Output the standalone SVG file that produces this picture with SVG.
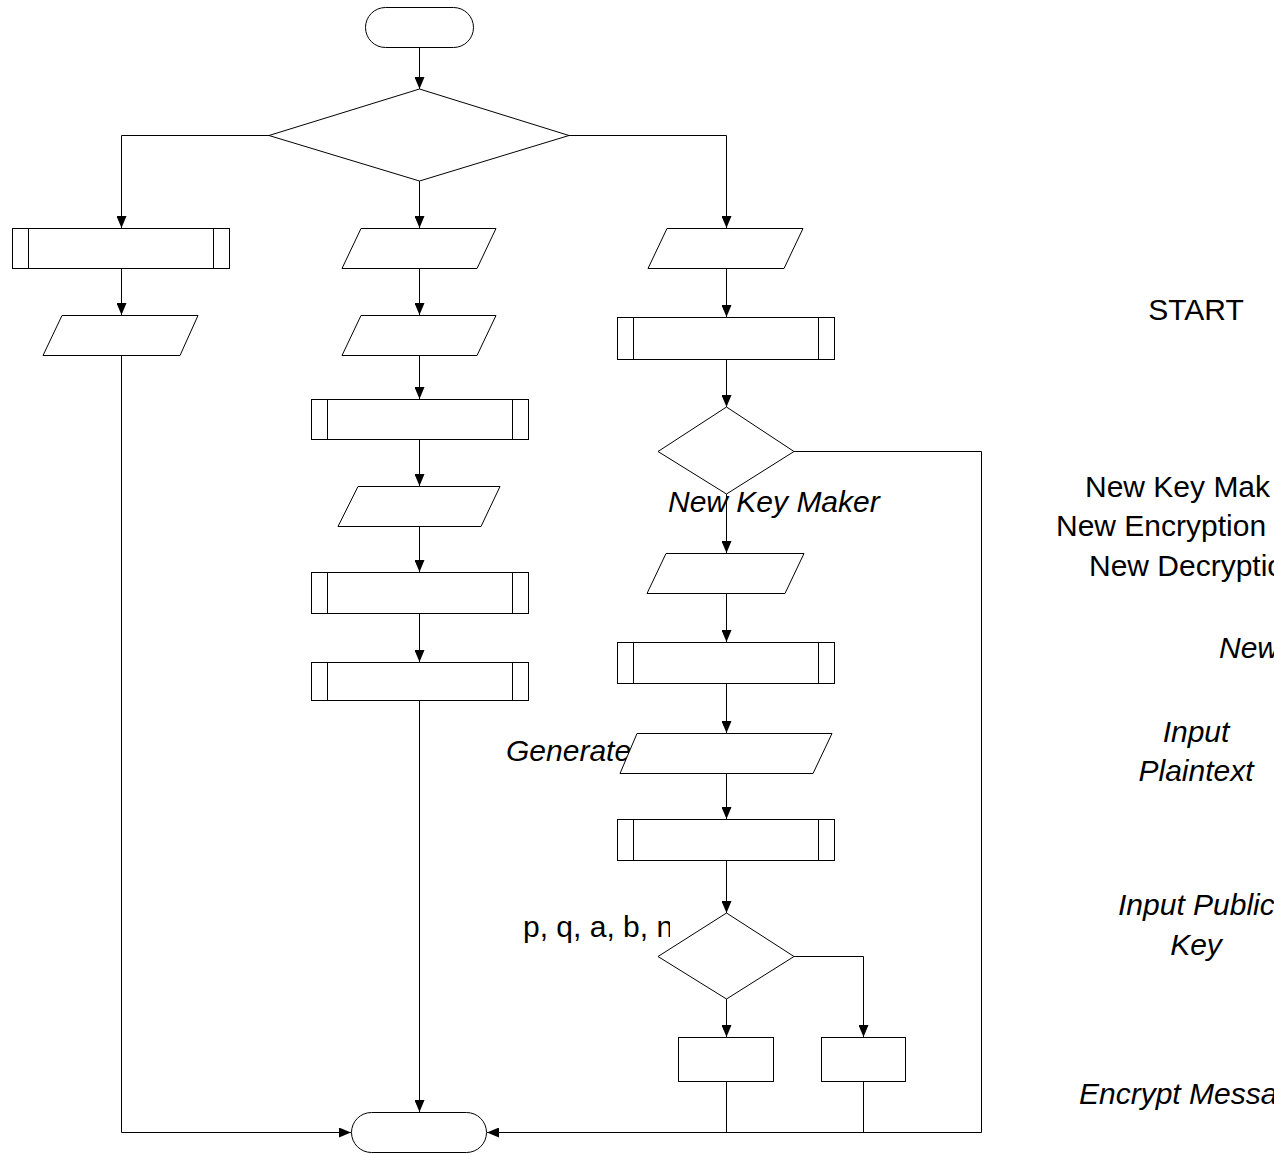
<svg xmlns="http://www.w3.org/2000/svg" width="1274" height="1154" viewBox="0 0 1274 1154">
<style>
.s{fill:#fff;stroke:#000;stroke-width:1}
.c{fill:none;stroke:#000;stroke-width:1}
.t{font-family:"Liberation Sans",Arial,sans-serif;font-size:30px;fill:#000}
.i{font-style:italic}
</style>
<defs>
<marker id="ah" markerUnits="userSpaceOnUse" viewBox="0 0 12 10" refX="12" refY="5" markerWidth="12" markerHeight="10" orient="auto">
<path d="M0,0 L12,5 L0,10 z" fill="#000"/>
</marker>
<clipPath id="clipP"><rect x="0" y="880" width="670" height="80"/></clipPath>
</defs>
<rect width="1274" height="1154" fill="#fff"/>
<g id="connectors">
<path class="c" d="M419.5,47 V89" marker-end="url(#ah)"/>
<path class="c" d="M269,135.5 H121.5 V228" marker-end="url(#ah)"/>
<path class="c" d="M569,135.5 H726.5 V228" marker-end="url(#ah)"/>
<path class="c" d="M419.5,181 V228" marker-end="url(#ah)"/>
<path class="c" d="M121.5,268 V315" marker-end="url(#ah)"/>
<path class="c" d="M121.5,355 V1132.5 H351" marker-end="url(#ah)"/>
<path class="c" d="M419.5,268 V315" marker-end="url(#ah)"/>
<path class="c" d="M419.5,355 V399" marker-end="url(#ah)"/>
<path class="c" d="M419.5,439 V486" marker-end="url(#ah)"/>
<path class="c" d="M419.5,526 V572" marker-end="url(#ah)"/>
<path class="c" d="M419.5,613 V662" marker-end="url(#ah)"/>
<path class="c" d="M419.5,701 V1112" marker-end="url(#ah)"/>
<path class="c" d="M726.5,268 V317" marker-end="url(#ah)"/>
<path class="c" d="M726.5,359 V407" marker-end="url(#ah)"/>
<path class="c" d="M726.5,494 V553" marker-end="url(#ah)"/>
<path class="c" d="M794,451.5 H981.5 V1132.5 H487" marker-end="url(#ah)"/>
<path class="c" d="M726.5,593 V642" marker-end="url(#ah)"/>
<path class="c" d="M726.5,683 V733" marker-end="url(#ah)"/>
<path class="c" d="M726.5,773 V819" marker-end="url(#ah)"/>
<path class="c" d="M726.5,860 V913" marker-end="url(#ah)"/>
<path class="c" d="M726.5,999 V1037" marker-end="url(#ah)"/>
<path class="c" d="M794,956.5 H863.5 V1037" marker-end="url(#ah)"/>
<path class="c" d="M726.5,1081 V1132"/>
<path class="c" d="M863.5,1081 V1132"/>
</g>
<g id="hidden-labels">
<text class="t i" x="506" y="761">Generate</text>
<text class="t" x="523" y="937" clip-path="url(#clipP)">p, q, a, b, n</text>
</g>
<g id="start"><rect class="s" x="365.5" y="7.5" width="108" height="40" rx="20" ry="20"/></g>
<g id="menu"><path class="s" d="M419.5,89 L569,135.5 L419.5,181 L269,135.5 Z"/></g>
<g id="left1"><rect class="s" x="12.5" y="228.5" width="217" height="40"/><path class="c" d="M28.5,228.5 V268.5 M213.5,228.5 V268.5"/></g>
<g id="left2"><path class="s" d="M62,315.5 H198 L180,355.5 H43 Z"/></g>
<g id="mid1"><path class="s" d="M361,228.5 H496 L477,268.5 H342 Z"/></g>
<g id="mid2"><path class="s" d="M361,315.5 H496 L477,355.5 H342 Z"/></g>
<g id="mid3"><rect class="s" x="311.5" y="399.5" width="217" height="40"/><path class="c" d="M327.5,399.5 V439.5 M512.5,399.5 V439.5"/></g>
<g id="mid4"><path class="s" d="M358,486.5 H500 L481,526.5 H338 Z"/></g>
<g id="mid5"><rect class="s" x="311.5" y="572.5" width="217" height="41"/><path class="c" d="M327.5,572.5 V613.5 M512.5,572.5 V613.5"/></g>
<g id="mid6"><rect class="s" x="311.5" y="662.5" width="217" height="38"/><path class="c" d="M327.5,662.5 V700.5 M512.5,662.5 V700.5"/></g>
<g id="right1"><path class="s" d="M667,228.5 H803 L784,268.5 H648 Z"/></g>
<g id="right2"><rect class="s" x="617.5" y="317.5" width="217" height="42"/><path class="c" d="M633.5,317.5 V359.5 M818.5,317.5 V359.5"/></g>
<g id="right3"><path class="s" d="M726.5,407 L794,451.5 L726.5,494 L658,451.5 Z"/></g>
<g id="right4"><path class="s" d="M666,553.5 H804 L785,593.5 H647 Z"/></g>
<g id="right5"><rect class="s" x="617.5" y="642.5" width="217" height="41"/><path class="c" d="M633.5,642.5 V683.5 M818.5,642.5 V683.5"/></g>
<g id="right6"><path class="s" d="M637,733.5 H832 L813,773.5 H620 Z"/></g>
<g id="right7"><rect class="s" x="617.5" y="819.5" width="217" height="41"/><path class="c" d="M633.5,819.5 V860.5 M818.5,819.5 V860.5"/></g>
<g id="right8"><path class="s" d="M726.5,913 L794,956.5 L726.5,999 L658,956.5 Z"/></g>
<g id="right9"><rect class="s" x="678.5" y="1037.5" width="95" height="44"/></g>
<g id="right10"><rect class="s" x="821.5" y="1037.5" width="84" height="44"/></g>
<g id="end"><rect class="s" x="351.5" y="1112.5" width="135" height="40" rx="20" ry="20"/></g>
<g id="labels">
<text class="t i" x="668" y="512">New Key Maker</text>
<text class="t" x="1196" y="320" text-anchor="middle">START</text>
<text class="t" x="1085" y="497">New Key Mak</text>
<text class="t" x="1056" y="536">New Encryption</text>
<text class="t" x="1089" y="576">New Decryptio</text>
<text class="t i" x="1219" y="658">New</text>
<text class="t i" x="1196" y="742" text-anchor="middle">Input</text>
<text class="t i" x="1196" y="781" text-anchor="middle">Plaintext</text>
<text class="t i" x="1118" y="915">Input Public</text>
<text class="t i" x="1196" y="955" text-anchor="middle">Key</text>
<text class="t i" x="1079" y="1104">Encrypt Messa</text>
</g>
</svg>
